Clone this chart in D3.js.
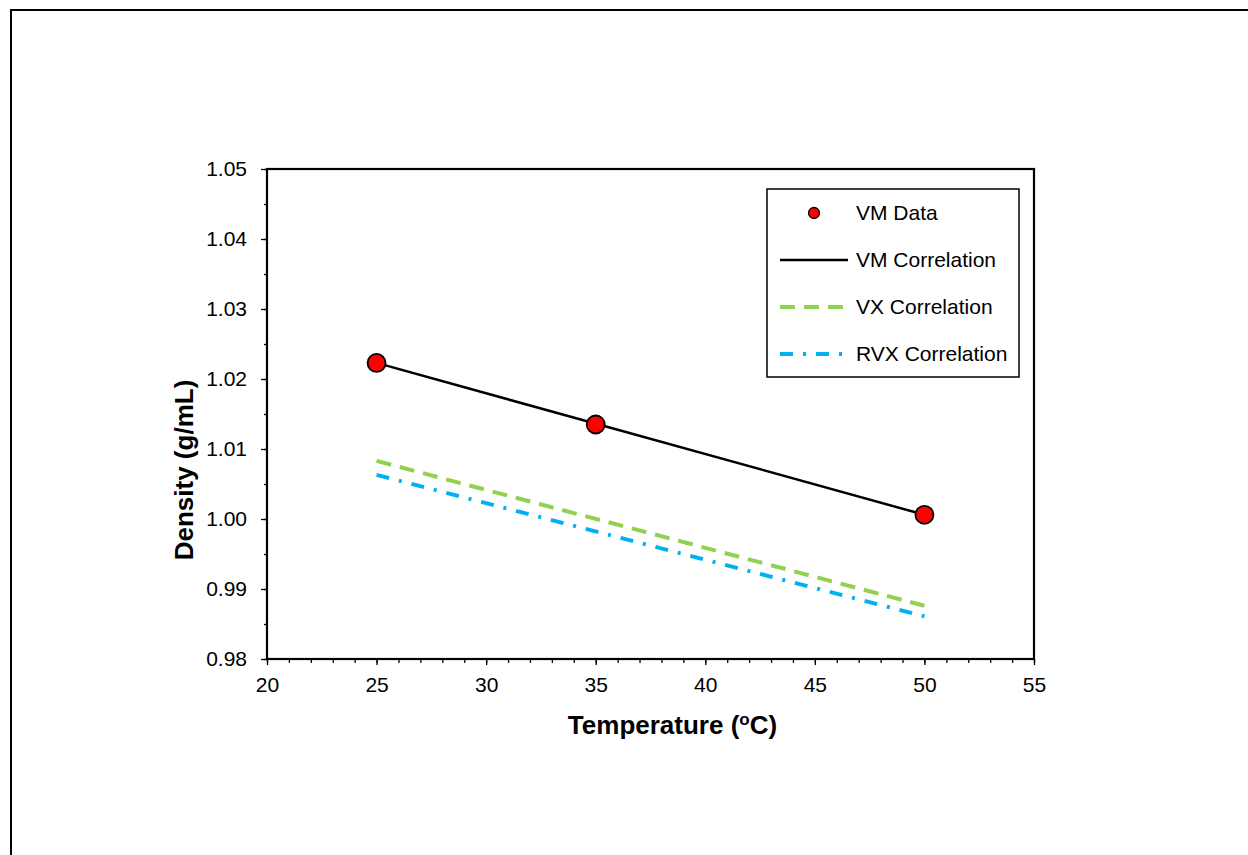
<!DOCTYPE html>
<html lang="en">
	<head>
		<meta charset="utf-8">
		<title>Density vs Temperature</title>
		<script type="text/javascript" src="https://cdn.jsdelivr.net/npm/d3@7"></script>
		<style type="text/css">
			body {
				margin: 0px;
				background: #fff;
			}
			text {
				font-family: "Liberation Sans", Arial, Helvetica, sans-serif;
			}
		</style>
	</head>
	<body>
		<div id="chart"></div>
		<script type="text/javascript">
		//Data
			var temps = [25, 35, 50];
			var vmData = [1.0223, 1.0135, 1.0006];

			var corrTemps = [25, 50];
			var vmCorr = [1.0223, 1.0006];
			var vxCorr = [1.0083, 0.9876];
			var rvxCorr = [1.0063, 0.9861];

			var xTicks = [20, 25, 30, 35, 40, 45, 50, 55];
			var yTicks = [0.98, 0.99, 1.00, 1.01, 1.02, 1.03, 1.04, 1.05];

			var legendLabels = ["VM Data", "VM Correlation", "VX Correlation", "RVX Correlation"];

		//Overall setup
			var w = 1248;
			var h = 855;
			var margin = {left: 267, right: 214, top: 169, bottom: 196};
			var width = w - margin.left - margin.right;
			var height = h - margin.top - margin.bottom;

			var svg = d3.select("#chart")
				.append("svg")
				.attr("width", w)
				.attr("height", h);

			//outer frame (right and bottom run off the page)
			svg.append("rect")
				.attr("x", 11)
				.attr("y", 10)
				.attr("width", 1300)
				.attr("height", 900)
				.attr("fill", "none")
				.attr("stroke", "#000")
				.attr("stroke-width", 2);

			var g = svg.append("g")
				.attr("transform", "translate(" + margin.left + ", " + margin.top + ")");

		//Scales
			var x = d3.scaleLinear()
				.domain([20, 55])
				.range([0, width]);

			var y = d3.scaleLinear()
				.domain([0.98, 1.05])
				.range([height, 0]);

		//Axes - minor ticks first, then major
			g.append("g")
				.attr("class", "x-minor")
				.attr("transform", "translate(0, " + height + ")")
				.call(d3.axisBottom(x).tickValues(d3.range(20, 56, 1)).tickSize(4).tickFormat(""));

			g.append("g")
				.attr("class", "y-minor")
				.call(d3.axisLeft(y).tickValues(d3.range(0, 15).map(function(i){ return 0.98 + i * 0.005; })).tickSize(3).tickFormat(""));

			g.append("g")
				.attr("class", "x-axis")
				.attr("transform", "translate(0, " + height + ")")
				.call(d3.axisBottom(x).tickValues(xTicks).tickSize(6).tickPadding(12));

			g.append("g")
				.attr("class", "y-axis")
				.call(d3.axisLeft(y).tickValues(yTicks).tickSize(6).tickPadding(14).tickFormat(d3.format(".2f")));

			g.selectAll(".domain").remove();
			g.selectAll(".tick line").attr("stroke", "#000").attr("stroke-width", 1.3);
			g.selectAll(".tick text")
				.attr("fill", "#000")
				.attr("font-size", "21px");

			//plot frame
			g.append("rect")
				.attr("width", width)
				.attr("height", height)
				.attr("fill", "none")
				.attr("stroke", "#000")
				.attr("stroke-width", 2.2);

		//Axis labels
			var xLab = g.append("text")
				.attr("x", width / 2 + 22)
				.attr("y", height + 75)
				.attr("text-anchor", "middle")
				.attr("font-size", "26px")
				.attr("font-weight", "bold")
				.text("Temperature (");
			xLab.append("tspan")
				.attr("font-size", "17px")
				.attr("dy", "-9")
				.text("o");
			xLab.append("tspan")
				.attr("dy", "9")
				.text("C)");

			g.append("text")
				.attr("transform", "translate(" + (-74) + ", " + 301 + ") rotate(-90)")
				.attr("text-anchor", "middle")
				.attr("font-size", "26px")
				.attr("font-weight", "bold")
				.text("Density (g/mL)");

		//Lines
			var line = d3.line()
				.x(function(d){ return x(d[0]); })
				.y(function(d){ return y(d[1]); });

			var series = [
				{name: "VM Correlation", values: vmCorr, color: "#000", width: 2.5, dash: null},
				{name: "VX Correlation", values: vxCorr, color: "#92D050", width: 4, dash: "15,9"},
				{name: "RVX Correlation", values: rvxCorr, color: "#00B0F0", width: 4, dash: "13,10,3,10"}
			];

			g.selectAll(".corr")
				.data(series)
				.enter()
				.append("path")
				.attr("class", "corr")
				.attr("d", function(s){ return line(d3.zip(corrTemps, s.values)); })
				.attr("fill", "none")
				.attr("stroke", function(s){ return s.color; })
				.attr("stroke-width", function(s){ return s.width; })
				.attr("stroke-dasharray", function(s){ return s.dash; });

		//Data points
			g.selectAll(".pt")
				.data(d3.zip(temps, vmData))
				.enter()
				.append("circle")
				.attr("class", "pt")
				.attr("cx", function(d){ return x(d[0]); })
				.attr("cy", function(d){ return y(d[1]); })
				.attr("r", 9)
				.attr("fill", "#FF0000")
				.attr("stroke", "#000")
				.attr("stroke-width", 1.8);

		//Legend
			var legend = svg.append("g")
				.attr("transform", "translate(767, 189)");

			legend.append("rect")
				.attr("width", 252)
				.attr("height", 188)
				.attr("fill", "#fff")
				.attr("stroke", "#000")
				.attr("stroke-width", 1.5);

			var rowY = function(i){ return 24 + i * 47; };

			legend.append("circle")
				.attr("cx", 47)
				.attr("cy", rowY(0))
				.attr("r", 5.5)
				.attr("fill", "#FF0000")
				.attr("stroke", "#000")
				.attr("stroke-width", 1.3);

			legend.selectAll(".lg-line")
				.data(series)
				.enter()
				.append("line")
				.attr("class", "lg-line")
				.attr("x1", 13)
				.attr("x2", 81)
				.attr("y1", function(s, i){ return rowY(i + 1); })
				.attr("y2", function(s, i){ return rowY(i + 1); })
				.attr("stroke", function(s){ return s.color; })
				.attr("stroke-width", function(s){ return s.width; })
				.attr("stroke-dasharray", function(s){ return s.dash; });

			legend.selectAll(".lg-text")
				.data(legendLabels)
				.enter()
				.append("text")
				.attr("class", "lg-text")
				.attr("x", 89)
				.attr("y", function(d, i){ return rowY(i); })
				.attr("dy", "0.35em")
				.attr("font-size", "21px")
				.text(function(d){ return d; });
		</script>
	</body>
</html>
